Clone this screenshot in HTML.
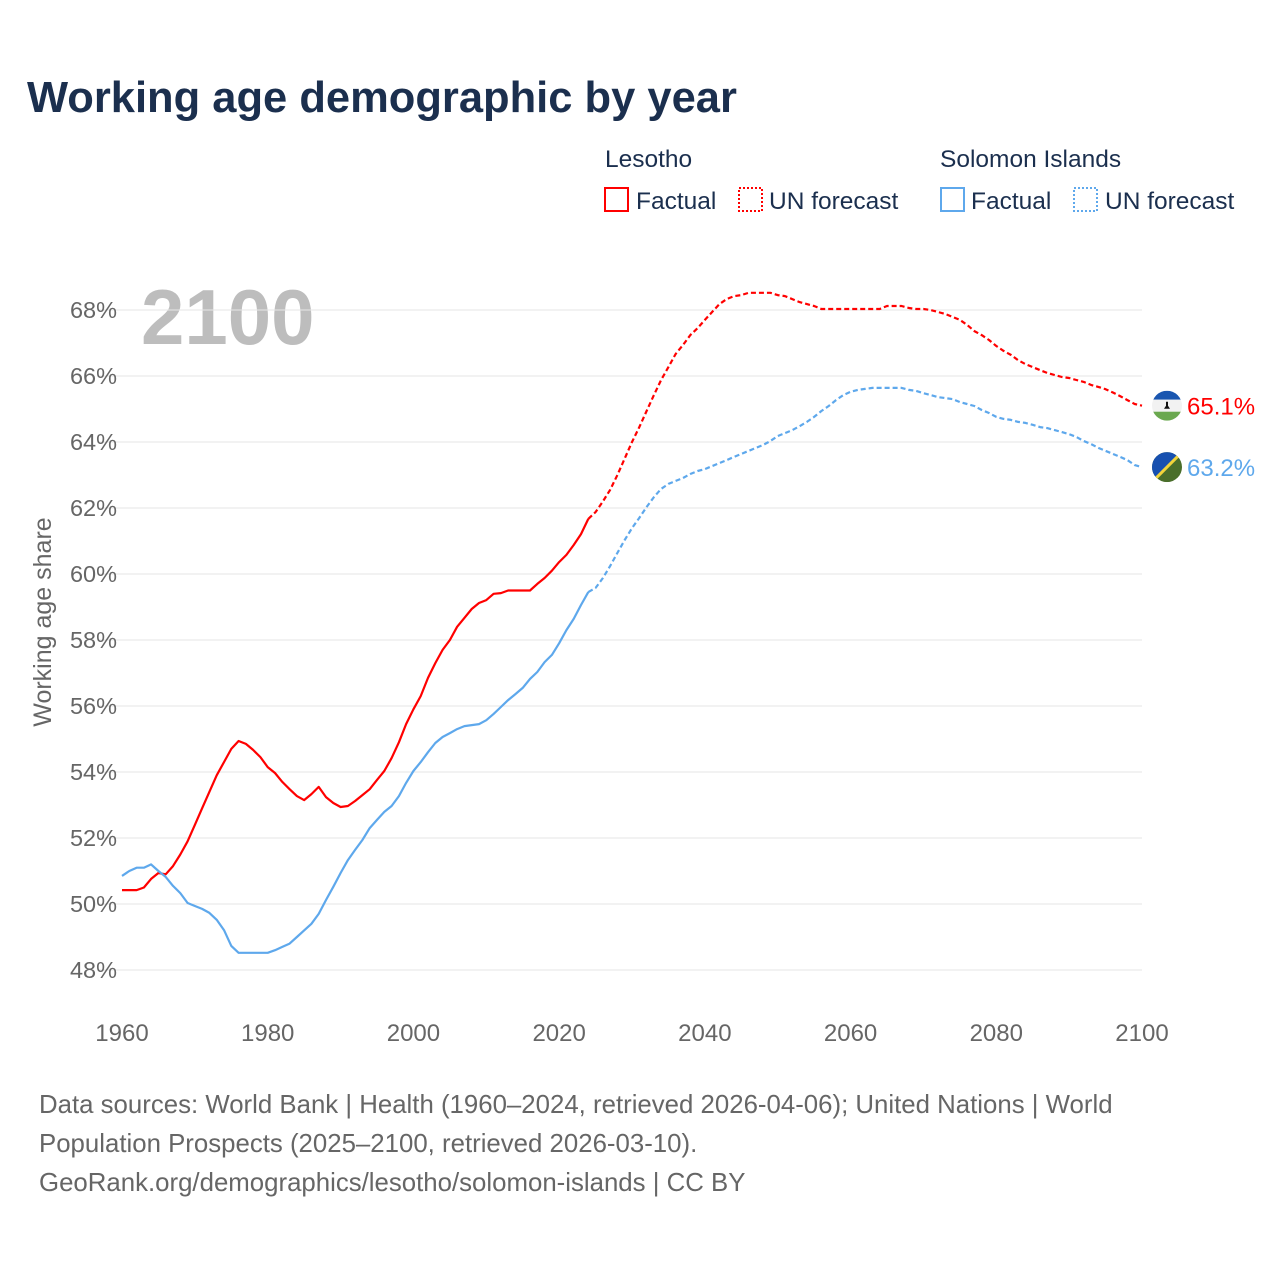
<!DOCTYPE html>
<html><head><meta charset="utf-8"><style>
body{margin:0;background:#fff;}
svg text{font-family:"Liberation Sans",sans-serif;}
</style></head><body>
<svg width="1280" height="1280" viewBox="0 0 1280 1280" xmlns="http://www.w3.org/2000/svg" id="chart">
<rect width="1280" height="1280" fill="#fff"/>
<text x="27" y="112" font-size="43.5" font-weight="bold" fill="#1b2f4e">Working age demographic by year</text>
<g font-size="24.5" fill="#1b2f4e">
<text x="605" y="167">Lesotho</text>
<rect x="605" y="188" width="23" height="23" fill="none" stroke="#f00" stroke-width="2"/>
<text x="636" y="209">Factual</text>
<rect x="739" y="188" width="23" height="23" fill="none" stroke="#f00" stroke-width="2" stroke-dasharray="2,2"/>
<text x="769" y="209">UN forecast</text>
<text x="940" y="167">Solomon Islands</text>
<rect x="941" y="188" width="23" height="23" fill="none" stroke="#5ea8ec" stroke-width="2"/>
<text x="971" y="209">Factual</text>
<rect x="1074" y="188" width="23" height="23" fill="none" stroke="#5ea8ec" stroke-width="2" stroke-dasharray="2,2"/>
<text x="1105" y="209">UN forecast</text>
</g>
<text x="141" y="344" font-size="78" font-weight="bold" fill="#bdbdbd">2100</text>
<text transform="translate(51,622) rotate(-90)" text-anchor="middle" font-size="25" fill="#666">Working age share</text>
<g id="grid"></g><g id="series"></g><g id="labels"></g>
<g font-size="25.8" fill="#666">
<text x="39" y="1113">Data sources: World Bank | Health (1960–2024, retrieved 2026-04-06); United Nations | World</text>
<text x="39" y="1152">Population Prospects (2025–2100, retrieved 2026-03-10).</text>
<text x="39" y="1191">GeoRank.org/demographics/lesotho/solomon-islands | CC BY</text>
</g>
</svg>
<script>
const yTicks=[48,50,52,54,56,58,60,62,64,66,68];
const xTicks=[1960,1980,2000,2020,2040,2060,2080,2100];
const lesothoFactual=[50.42,50.42,50.42,50.5,50.76,50.94,50.9,51.15,51.5,51.9,52.4,52.9,53.4,53.9,54.3,54.7,54.94,54.85,54.67,54.45,54.15,53.97,53.7,53.48,53.27,53.15,53.33,53.55,53.24,53.06,52.94,52.97,53.12,53.3,53.48,53.76,54.03,54.42,54.9,55.45,55.9,56.3,56.85,57.3,57.7,58.0,58.4,58.67,58.94,59.12,59.21,59.4,59.42,59.5,59.5,59.5,59.5,59.7,59.88,60.1,60.36,60.58,60.88,61.21,61.67];
const lesothoForecast=[61.67,61.88,62.2,62.55,63.0,63.5,64.0,64.45,64.94,65.42,65.88,66.27,66.67,66.94,67.24,67.45,67.7,67.94,68.18,68.33,68.42,68.45,68.52,68.52,68.52,68.52,68.45,68.42,68.33,68.24,68.18,68.12,68.03,68.03,68.03,68.03,68.03,68.03,68.03,68.03,68.03,68.12,68.12,68.12,68.06,68.03,68.03,68.0,67.94,67.88,67.79,67.7,67.55,67.36,67.24,67.09,66.91,66.76,66.64,66.48,66.36,66.27,66.18,66.09,66.03,65.97,65.94,65.88,65.82,65.73,65.67,65.6,65.5,65.39,65.27,65.15,65.1];
const solomonFactual=[50.85,51.0,51.1,51.1,51.2,51.0,50.82,50.55,50.33,50.03,49.94,49.85,49.73,49.52,49.21,48.73,48.52,48.52,48.52,48.52,48.52,48.6,48.7,48.8,49.0,49.2,49.4,49.7,50.12,50.52,50.94,51.33,51.64,51.94,52.3,52.55,52.79,52.97,53.27,53.67,54.03,54.3,54.6,54.88,55.06,55.18,55.3,55.39,55.42,55.45,55.57,55.76,55.97,56.18,56.36,56.55,56.82,57.03,57.33,57.55,57.9,58.3,58.64,59.06,59.45];
const solomonForecast=[59.45,59.58,59.88,60.24,60.64,61.03,61.39,61.7,62.03,62.33,62.58,62.73,62.82,62.91,63.03,63.12,63.18,63.27,63.36,63.45,63.55,63.64,63.73,63.82,63.91,64.03,64.18,64.27,64.36,64.48,64.61,64.76,64.94,65.09,65.27,65.42,65.52,65.58,65.61,65.64,65.64,65.64,65.64,65.64,65.58,65.55,65.48,65.42,65.36,65.33,65.3,65.21,65.15,65.09,64.97,64.88,64.76,64.7,64.67,64.61,64.58,64.52,64.45,64.42,64.36,64.3,64.24,64.15,64.03,63.94,63.82,63.73,63.64,63.55,63.45,63.3,63.24];
const factualStart=1960, forecastStart=2024;
const NS="http://www.w3.org/2000/svg";
const X=y=>122+(y-1960)*(1020/140);
const Y=v=>310+(68-v)*33;
function mk(t,a,p){const e=document.createElementNS(NS,t);for(const k in a)e.setAttribute(k,a[k]);p.appendChild(e);return e;}
const grid=document.getElementById('grid'),ser=document.getElementById('series'),lab=document.getElementById('labels');
yTicks.forEach(v=>{
 const l=mk('line',{x1:97,x2:1142,y1:Y(v),y2:Y(v),stroke:'#e6e6e6','stroke-width':1},grid);
 
 
 const t=mk('text',{x:117,y:Y(v)+8,'text-anchor':'end','font-size':23.5,fill:'#666'},lab);
 t.textContent=v+'%';
 
 
});
xTicks.forEach(yr=>{
 const t=mk('text',{x:X(yr),y:1041,'text-anchor':'middle','font-size':24,fill:'#666'},lab);
 t.textContent=yr;
 
 
});
function line(arr,start,color,dash,name){
 const d=arr.map((v,i)=>(i?'L':'M')+X(start+i).toFixed(1)+','+Y(v).toFixed(1)).join('');
 const p=mk('path',{d:d,fill:'none',stroke:color,'stroke-width':2.2,'stroke-linejoin':'round'},ser);
 if(dash)p.setAttribute('stroke-dasharray','5,3');
 
 
}
line(lesothoFactual,factualStart,'#f00',false,'lesotho-factual-line');
line(lesothoForecast,forecastStart,'#f00',true,'lesotho-forecast-line');
line(solomonFactual,factualStart,'#5ea8ec',false,'solomon-factual-line');
line(solomonForecast,forecastStart,'#5ea8ec',true,'solomon-forecast-line');
function endLabel(arr,color,name,flag){
 const v=arr[arr.length-1];
 const cy=Y(v);
 const g=mk('g',{},lab);
 
 
 const cl='c'+name;
 const cp=mk('clipPath',{id:cl},g);mk('circle',{cx:1167,cy:cy,r:15},cp);
 const gg=mk('g',{'clip-path':'url(#'+cl+')'},g);
 if(flag==='ls'){
  mk('rect',{x:1152,y:cy-15,width:30,height:9,fill:'#1a56b0'},gg);
  mk('rect',{x:1152,y:cy-6,width:30,height:12,fill:'#f2f2f2'},gg);
  mk('rect',{x:1152,y:cy+6,width:30,height:9,fill:'#6aa84f'},gg);
  mk('path',{d:`M1164 ${cy+3}h6l-2-3v-4h-2v4z`,fill:'#111'},gg);
 }else{
  mk('rect',{x:1152,y:cy-15,width:30,height:30,fill:'#4a6e2b'},gg);
  mk('path',{d:`M1152 ${cy-15}H1182L1152 ${cy+15}Z`,fill:'#1750b0'},gg);
  mk('line',{x1:1182,y1:cy-15,x2:1152,y2:cy+15,stroke:'#f2d43a','stroke-width':3},gg);
 }
 const t=mk('text',{x:1187,y:cy+9,'font-size':24,fill:color},lab);
 t.textContent=v.toFixed(1)+'%';
 
 
}
endLabel(lesothoForecast,'#f00','lesotho','ls');
endLabel(solomonForecast,'#5ea8ec','solomon','sb');
</script>
</body></html>
